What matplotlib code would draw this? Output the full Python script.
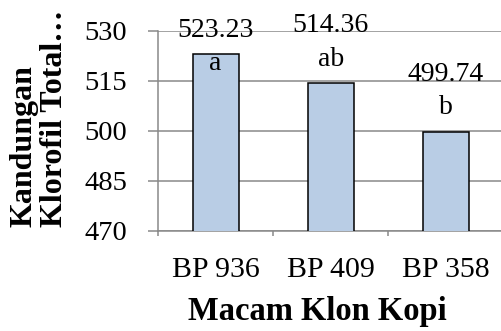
import matplotlib
matplotlib.use("Agg")
import matplotlib.pyplot as plt
from matplotlib.ticker import FixedLocator

# Data
clones = ["BP 936", "BP 409", "BP 358"]
chlorophyll = [523.23, 514.36, 499.74]
notation = ["a", "ab", "b"]

# Vertical shift (points) for each bar's label pair
label_shift = [-24.5, 0.0, 0.0]

plt.rcParams["font.family"] = ["Liberation Serif", "DejaVu Serif"]

fig = plt.figure(figsize=(5.01, 3.31), dpi=100)
ax = fig.add_axes([158 / 501, 100 / 331, 345.5 / 501, 200 / 331])

grid_color = "#898989"
bar_fill = "#B9CDE5"

x = list(range(len(clones)))
ax.bar(x, chlorophyll, width=0.4, color=bar_fill, edgecolor="black",
       linewidth=1.1, zorder=3)

ax.set_xlim(-0.5, len(clones) - 0.5)
ax.set_ylim(470, 530)
ax.set_yticks([470, 485, 500, 515, 530])
ax.yaxis.grid(True, color=grid_color, linewidth=1.1, zorder=0)
ax.set_axisbelow(True)

for side in ("top", "right"):
    ax.spines[side].set_visible(False)
for side in ("left", "bottom"):
    ax.spines[side].set_color(grid_color)
    ax.spines[side].set_linewidth(1.1)

ax.tick_params(axis="y", which="major", length=7.2, width=1.1,
               color=grid_color, direction="out", pad=15, labelsize=20.5)
ax.set_xticks(x)
ax.set_xticklabels(clones)
ax.tick_params(axis="x", which="major", length=0, pad=19, labelsize=21.5)
ax.xaxis.set_minor_locator(FixedLocator([i - 0.5 for i in range(len(clones) + 1)]))
ax.tick_params(axis="x", which="minor", length=3.6, width=1.1,
               color=grid_color, direction="out")

for i, (v, note, dy) in enumerate(zip(chlorophyll, notation, label_shift)):
    ax.annotate(f"{v:.2f}", xy=(i, v), xytext=(0, 36.7 + dy),
                textcoords="offset points", ha="center", va="baseline",
                fontsize=20, zorder=5)
    ax.annotate(note, xy=(i, v), xytext=(0, 12.6 + dy),
                textcoords="offset points", ha="center", va="baseline",
                fontsize=20, zorder=5)

fig.text(317 / 501, 11 / 331, "Macam Klon Kopi", ha="center",
         va="baseline", fontsize=23.5, fontweight="bold")
fig.text(39 / 501, 104 / 331, "Kandungan\nKlorofil Total…", ha="center",
         va="bottom", rotation=90, multialignment="left", fontsize=23,
         fontweight="bold", linespacing=1.05)

fig.savefig("out.png", dpi=100)
